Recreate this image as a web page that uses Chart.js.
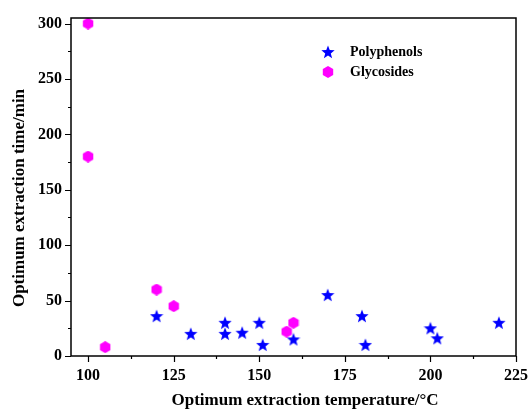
<!DOCTYPE html>
<html>
<head>
<meta charset="utf-8">
<script src="https://cdn.jsdelivr.net/npm/chart.js@4/dist/chart.umd.min.js"></script>
<style>
  html, body { margin: 0; padding: 0; background: #fff; }
  #wrap { width: 529px; height: 410px; }
</style>
</head>
<body>
<div id="wrap"><canvas id="extractionChart"></canvas></div>
<script>
// values
const polyTemp = [120, 130, 140, 140, 145, 150, 151, 160, 170, 180, 181, 200, 202, 220];
const polyTime = [36, 20, 30, 20, 21, 30, 10, 15, 55, 36, 10, 25, 16, 30];
const glycoTemp = [100, 100, 105, 120, 125, 158, 160];
const glycoTime = [300, 180, 8, 60, 45, 22, 30];

const xTicks = [100, 125, 150, 175, 200, 225];
const yTicks = [0, 50, 100, 150, 200, 250, 300];

const FONT = "'Liberation Serif', 'Times New Roman', serif";

function makeStar(size, color) {
  const c = document.createElement('canvas');
  c.width = size; c.height = size;
  const g = c.getContext('2d');
  const cx = size / 2, cy = size / 2 + 0.5;
  const ro = size / 2, ri = ro * 0.42;
  g.beginPath();
  for (let i = 0; i < 10; i++) {
    const r = i % 2 === 0 ? ro : ri;
    const a = -Math.PI / 2 + i * Math.PI / 5;
    g.lineTo(cx + r * Math.cos(a), cy + r * Math.sin(a));
  }
  g.closePath();
  g.fillStyle = color;
  g.fill();
  return c;
}

function makeHex(size, color) {
  const c = document.createElement('canvas');
  c.width = size; c.height = size;
  const g = c.getContext('2d');
  const cx = size / 2, cy = size / 2, r = size / 2;
  g.beginPath();
  for (let i = 0; i < 6; i++) {
    const a = -Math.PI / 2 + i * Math.PI / 3;
    g.lineTo(cx + r * Math.cos(a), cy + r * Math.sin(a));
  }
  g.closePath();
  g.fillStyle = color;
  g.fill();
  return c;
}

const starImg = makeStar(14, '#0000ff');
const hexImg = makeHex(12, '#ff00ff');

const toPoints = (xs, ys) => xs.map((x, i) => ({ x, y: ys[i] }));

// frame, outward ticks (major + minor), axis titles and in-plot legend
const framePlugin = {
  id: 'frame',
  afterDraw(chart) {
    const { ctx, chartArea: a, scales } = chart;
    const x = scales.x, y = scales.y;
    ctx.save();
    ctx.strokeStyle = '#000';
    ctx.lineWidth = 1.5;
    ctx.strokeRect(a.left, a.top, a.right - a.left, a.bottom - a.top);

    ctx.lineWidth = 1.2;
    ctx.beginPath();
    for (let v = 100; v <= 225; v += 12.5) {
      const px = Math.round(x.getPixelForValue(v)) + 0.5;
      const len = (v % 25 === 0) ? 6 : 3;
      ctx.moveTo(px, a.bottom);
      ctx.lineTo(px, a.bottom + len);
    }
    for (let v = 0; v <= 300; v += 25) {
      const py = Math.round(y.getPixelForValue(v)) + 0.5;
      const len = (v % 50 === 0) ? 6 : 3;
      ctx.moveTo(a.left, py);
      ctx.lineTo(a.left - len, py);
    }
    ctx.stroke();

    ctx.fillStyle = '#000';
    ctx.textBaseline = 'middle';
    ctx.textAlign = 'center';
    ctx.font = 'bold 17px ' + FONT;
    ctx.fillText('Optimum extraction temperature/°C', 305, 401);
    ctx.save();
    ctx.translate(20, 198);
    ctx.rotate(-Math.PI / 2);
    ctx.fillText('Optimum extraction time/min', 0, 0);
    ctx.restore();

    // legend
    ctx.drawImage(starImg, 328 - 7, 52 - 7);
    ctx.drawImage(hexImg, 328 - 6, 72 - 6);
    ctx.textAlign = 'left';
    ctx.font = 'bold 14px ' + FONT;
    ctx.fillText('Polyphenols', 350, 52);
    ctx.fillText('Glycosides', 350, 72);
    ctx.restore();
  }
};

new Chart(document.getElementById('extractionChart'), {
  type: 'scatter',
  data: {
    datasets: [
      {
        label: 'Polyphenols',
        data: toPoints(polyTemp, polyTime),
        pointStyle: starImg,
        backgroundColor: '#0000ff'
      },
      {
        label: 'Glycosides',
        data: toPoints(glycoTemp, glycoTime),
        pointStyle: hexImg,
        backgroundColor: '#ff00ff'
      }
    ]
  },
  options: {
    responsive: true,
    maintainAspectRatio: false,
    animation: false,
    layout: { padding: { top: 18, right: 13, left: 0, bottom: 0 } },
    plugins: {
      legend: { display: false },
      tooltip: { enabled: false }
    },
    scales: {
      x: {
        type: 'linear',
        min: 95,
        max: 225,
        afterBuildTicks: s => { s.ticks = xTicks.map(v => ({ value: v })); },
        afterFit: s => { s.height = 54; s.paddingLeft = 0; s.paddingRight = 0; },
        grid: { display: false, drawTicks: false },
        border: { display: false },
        ticks: {
          padding: 10,
          color: '#000',
          font: { family: FONT, size: 16, weight: 'bold' }
        }
      },
      y: {
        type: 'linear',
        min: 0,
        max: 305,
        afterBuildTicks: s => { s.ticks = yTicks.map(v => ({ value: v })); },
        afterFit: s => { s.width = 71; s.paddingTop = 0; s.paddingBottom = 0; },
        grid: { display: false, drawTicks: false },
        border: { display: false },
        ticks: {
          padding: 9,
          color: '#000',
          font: { family: FONT, size: 16, weight: 'bold' }
        }
      }
    }
  },
  plugins: [framePlugin]
});
</script>
</body>
</html>
